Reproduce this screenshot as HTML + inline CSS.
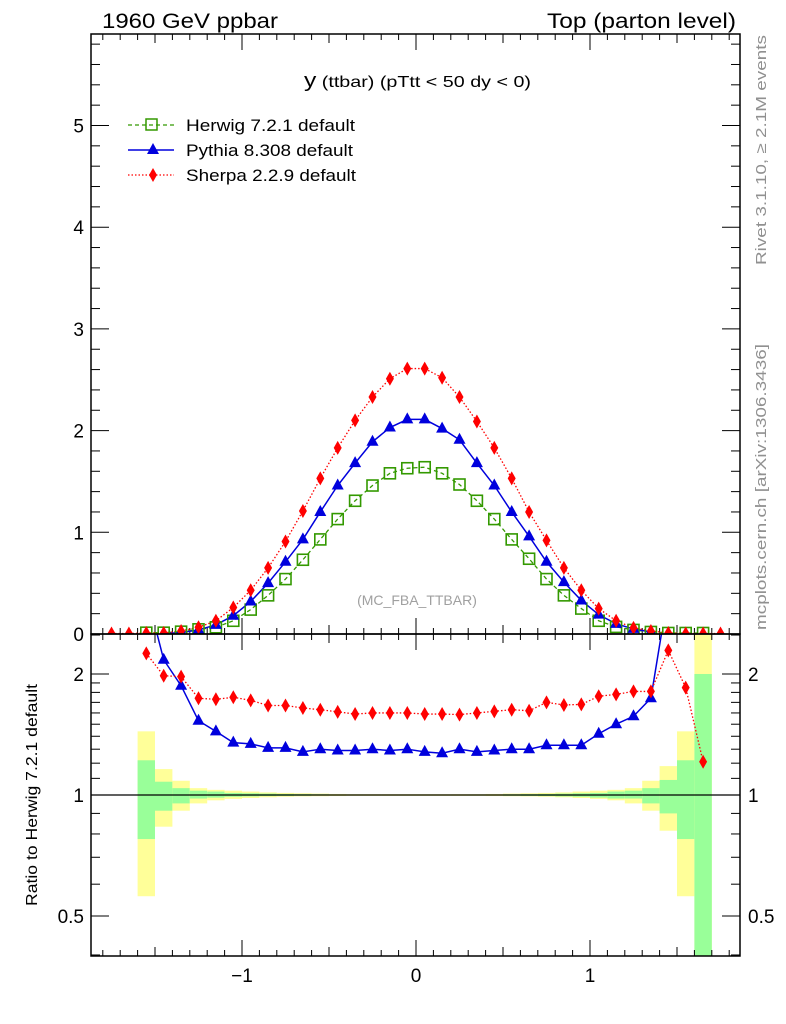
<!DOCTYPE html>
<html><head><meta charset="utf-8"><style>
html,body{margin:0;padding:0;background:#fff;}
svg{display:block;font-family:"Liberation Sans",sans-serif;}
</style></head><body>
<svg id="chart" width="786" height="1024" viewBox="0 0 786 1024" xmlns="http://www.w3.org/2000/svg">
<defs>
<clipPath id="clipMain"><rect x="91" y="34" width="649" height="600"/></clipPath>
<clipPath id="clipRatio"><rect x="91" y="634" width="649" height="322"/></clipPath>
</defs>
<g id="bands" clip-path="url(#clipRatio)"></g>
<g id="ticks"></g>
<line x1="91" x2="740" y1="795" y2="795" stroke="#000" stroke-width="1.2"/>
<g id="mainSeries" clip-path="url(#clipMain)"></g>
<g id="ratioSeries" clip-path="url(#clipRatio)"></g>
<rect x="91" y="34" width="649" height="600" fill="none" stroke="#000" stroke-width="1.5"/>
<rect x="91" y="634" width="649" height="322" fill="none" stroke="#000" stroke-width="1.5"/>
<text x="102" y="28" font-size="21" textLength="176" lengthAdjust="spacingAndGlyphs">1960 GeV ppbar</text>
<text x="736" y="28" font-size="21" text-anchor="end" textLength="189" lengthAdjust="spacingAndGlyphs">Top (parton level)</text>
<text x="304" y="87" font-size="16" textLength="227" lengthAdjust="spacingAndGlyphs"><tspan font-size="20">y</tspan> (ttbar) (pTtt &lt; 50 dy &lt; 0)</text>
<text x="417" y="605" font-size="14" fill="#a0a0a0" text-anchor="middle">(MC_FBA_TTBAR)</text>
<text transform="translate(766,265) rotate(-90)" font-size="15" fill="#909090" textLength="230" lengthAdjust="spacingAndGlyphs">Rivet 3.1.10, ≥ 2.1M events</text>
<text transform="translate(766,630) rotate(-90)" font-size="15" fill="#909090" textLength="286" lengthAdjust="spacingAndGlyphs">mcplots.cern.ch [arXiv:1306.3436]</text>
<text transform="translate(37,795) rotate(-90)" font-size="16" text-anchor="middle" textLength="222" lengthAdjust="spacingAndGlyphs">Ratio to Herwig 7.2.1 default</text>
<g>
 <g>
  <line x1="128" x2="174" y1="125" y2="125" stroke="#339900" stroke-width="1.3" stroke-dasharray="4,3"/>
  <rect x="146" y="119" width="11" height="11" fill="none" stroke="#339900" stroke-width="1.5"/>
  <text x="186" y="131" font-size="17" textLength="169" lengthAdjust="spacingAndGlyphs">Herwig 7.2.1 default</text>
 </g>
 <g>
  <line x1="128" x2="174" y1="150" y2="150" stroke="#0000dd" stroke-width="1.5"/>
  <polygon points="153,143 159,154 147,154" fill="#0000dd"/>
  <text x="186" y="156" font-size="17" textLength="167" lengthAdjust="spacingAndGlyphs">Pythia 8.308 default</text>
 </g>
 <g>
  <line x1="128" x2="174" y1="175" y2="175" stroke="#ff0000" stroke-width="1.3" stroke-dasharray="1.5,2"/>
  <polygon points="153,168 157,175 153,182 149,175" fill="#ff0000"/>
  <text x="186" y="181" font-size="17" textLength="170" lengthAdjust="spacingAndGlyphs">Sherpa 2.2.9 default</text>
 </g>
</g>
</svg>
<script>
// bin centers -1.75 .. 1.75 (step 0.1)
const binCenters = [-1.75,-1.65,-1.55,-1.45,-1.35,-1.25,-1.15,-1.05,-0.95,-0.85,-0.75,-0.65,-0.55,-0.45,-0.35,-0.25,-0.15,-0.05,0.05,0.15,0.25,0.35,0.45,0.55,0.65,0.75,0.85,0.95,1.05,1.15,1.25,1.35,1.45,1.55,1.65,1.75];
const herwig = [null,null,0.013,0.013,0.023,0.046,0.066,0.13,0.24,0.38,0.54,0.73,0.93,1.13,1.31,1.46,1.58,1.63,1.64,1.58,1.47,1.31,1.13,0.93,0.74,0.54,0.38,0.25,0.13,0.07,0.04,0.02,0.01,0.01,0.01,null];
const pythia = [null,null,-0.2,0.005,0.013,0.04,0.09,0.18,0.32,0.50,0.71,0.93,1.20,1.46,1.68,1.89,2.03,2.11,2.11,2.02,1.91,1.68,1.46,1.20,0.96,0.71,0.51,0.33,0.19,0.10,0.05,0.02,-0.2,null,null,null];
const sherpa = [0.005,0.005,0.01,0.01,0.03,0.066,0.13,0.26,0.43,0.65,0.91,1.21,1.53,1.83,2.10,2.33,2.51,2.61,2.61,2.52,2.33,2.09,1.83,1.53,1.20,0.92,0.65,0.43,0.25,0.13,0.06,0.03,0.01,0.005,0.005,0.005];
const pythiaRatio = [null,null,3.2,2.17,1.87,1.53,1.44,1.35,1.34,1.31,1.31,1.28,1.30,1.29,1.29,1.30,1.29,1.30,1.28,1.27,1.30,1.28,1.29,1.30,1.30,1.33,1.33,1.33,1.42,1.50,1.57,1.74,3.2,null,null,null];
const sherpaRatio = [null,null,2.25,1.98,1.97,1.74,1.73,1.75,1.72,1.67,1.67,1.646,1.63,1.61,1.59,1.60,1.60,1.60,1.59,1.59,1.585,1.60,1.615,1.63,1.62,1.70,1.675,1.68,1.76,1.78,1.81,1.81,2.29,1.85,1.21,null];
const yellowHi = [null,null,1.44,1.16,1.085,1.04,1.03,1.025,1.02,1.015,1.012,1.01,1.008,1.006,1.005,1.005,1.005,1.005,1.005,1.005,1.005,1.005,1.006,1.008,1.01,1.012,1.015,1.02,1.025,1.03,1.04,1.085,1.18,1.44,3,null];
const yellowLo = [null,null,0.56,0.834,0.914,0.953,0.97,0.978,0.983,0.987,0.99,0.992,0.993,0.994,0.995,0.995,0.995,0.995,0.995,0.995,0.995,0.995,0.994,0.993,0.992,0.99,0.987,0.983,0.978,0.97,0.953,0.914,0.815,0.56,0.3,null];
const greenHi = [null,null,1.22,1.079,1.04,1.025,1.02,1.012,1.01,1.008,1.006,1.005,1.004,1.003,1.003,1.002,1.002,1.002,1.002,1.002,1.002,1.003,1.003,1.004,1.005,1.006,1.008,1.01,1.012,1.02,1.025,1.04,1.09,1.22,2.0,null];
const greenLo = [null,null,0.777,0.914,0.953,0.98,0.985,0.99,0.992,0.994,0.995,0.996,0.997,0.997,0.998,0.998,0.998,0.998,0.998,0.998,0.998,0.997,0.997,0.996,0.995,0.994,0.992,0.99,0.985,0.98,0.98,0.953,0.9,0.777,0.3,null];
const mainYTicks = [0,1,2,3,4,5];
const ratioYTicks = [0.5,1,2];
const xTicks = [-1,0,1];

const NS = 'http://www.w3.org/2000/svg';
const BW = 0.1;
function X(v){ return 416 + v*174; }
function YM(v){ return 634 - v*101.7; }
function YR(v){ return 795 - 402*Math.log10(v); }
function mk(tag, attrs, parent){
  const e = document.createElementNS(NS, tag);
  for (const k in attrs) e.setAttribute(k, attrs[k]);
  parent.appendChild(e);
  return e;
}
const bands = document.getElementById('bands');
const ticks = document.getElementById('ticks');
const mainG = document.getElementById('mainSeries');
const ratioG = document.getElementById('ratioSeries');
const svg = document.getElementById('chart');

binCenters.forEach((c,i)=>{
  if (yellowHi[i]==null) return;
  const x1 = X(c-BW/2), w = X(c+BW/2)-x1;
  const y1 = mk('rect',{x:x1,y:YR(yellowHi[i]),width:w,height:YR(yellowLo[i])-YR(yellowHi[i]),fill:'#ffff99'},bands);
  
  
  const g1 = mk('rect',{x:x1,y:YR(greenHi[i]),width:w,height:YR(greenLo[i])-YR(greenHi[i]),fill:'#99ff99'},bands);
  
  
});

function tick(x1,y1,x2,y2){
  const t = mk('line',{x1:x1,y1:y1,x2:x2,y2:y2,stroke:'#000','stroke-width':1},ticks);
  
  
}
for (let k=-18;k<=18;k++){
  const v=k/10, x=X(v);
  if (x<91||x>740) continue;
  const L = (k%10===0)?16:(k%5===0?9:6);
  tick(x,634,x,634-L); tick(x,34,x,34+L);
  tick(x,956,x,956-L); tick(x,634,x,634+L);
}
for (let k=0;k<=29;k++){
  const v=k/5, y=YM(v);
  if (y<34) continue;
  const L=(k%5===0)?18:9;
  tick(91,y,91+L,y); tick(740,y,740-L,y);
}
[0.4,0.5,0.6,0.7,0.8,0.9,1,1.1,1.2,1.3,1.4,1.5,1.6,1.7,1.8,1.9,2,2.5].forEach(v=>{
  const y=YR(v); if(y<634||y>956) return;
  const L=(ratioYTicks.indexOf(v)>=0)?18:9;
  tick(91,y,91+L,y); tick(740,y,740-L,y);
});
function label(x,y,txt,anchor,name){
  const t = mk('text',{x:x,y:y,'font-size':19,'text-anchor':anchor},svg);
  t.textContent = txt;
  
  
}
mainYTicks.forEach(v=>label(84,YM(v)+7,String(v),'end','main-y-tick-label'));
ratioYTicks.forEach(v=>{ label(84,YR(v)+7,String(v),'end','ratio-y-tick-label'); label(748,YR(v)+7,String(v),'start','ratio-y-tick-label-right'); });
xTicks.forEach(v=>label(X(v),982,v<0?'\u2212'+Math.abs(v):String(v),'middle','x-tick-label'));

function polyline(vals, yf, parent, color, dash, width, name){
  const pts=[];
  binCenters.forEach((c,i)=>{ if(vals[i]!=null) pts.push(X(c)+','+yf(vals[i])); });
  const p = mk('polyline',{points:pts.join(' '),fill:'none',stroke:color,'stroke-width':width,'stroke-dasharray':dash},parent);
  
  
}
function markers(vals, yf, parent, type, name){
  binCenters.forEach((c,i)=>{
    const v=vals[i]; if(v==null) return;
    const x=X(c), y=yf(v);
    let m;
    if(type==='square') m=mk('rect',{x:x-5.5,y:y-5.5,width:11,height:11,fill:'none',stroke:'#339900','stroke-width':1.6},parent);
    else if(type==='tri') m=mk('polygon',{points:`${x},${y-7} ${x+6},${y+4} ${x-6},${y+4}`,fill:'#0000dd'},parent);
    else m=mk('polygon',{points:`${x},${y-7} ${x+4},${y} ${x},${y+7} ${x-4},${y}`,fill:'#ff0000'},parent);
    
    
  });
}
polyline(herwig,YM,mainG,'#339900','4,3',1.3,'herwig-line');
polyline(pythia,YM,mainG,'#0000dd','none',1.5,'pythia-line');
polyline(sherpa,YM,mainG,'#ff0000','1.5,2',1.3,'sherpa-line');
markers(herwig,YM,mainG,'square','herwig-point');
markers(pythia,YM,mainG,'tri','pythia-point');
markers(sherpa,YM,mainG,'diamond','sherpa-point');
polyline(pythiaRatio,YR,ratioG,'#0000dd','none',1.5,'pythia-ratio-line');
polyline(sherpaRatio,YR,ratioG,'#ff0000','1.5,2',1.3,'sherpa-ratio-line');
markers(pythiaRatio,YR,ratioG,'tri','pythia-ratio-point');
markers(sherpaRatio,YR,ratioG,'diamond','sherpa-ratio-point');
</script>
</body></html>
